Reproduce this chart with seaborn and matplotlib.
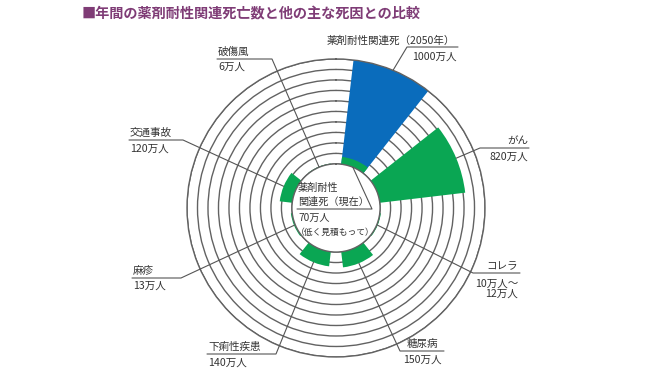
import numpy as np
import pandas as pd
import matplotlib
matplotlib.use("Agg")
import matplotlib.pyplot as plt
import seaborn as sns

# データ（単位：万人）
categories = ["薬剤耐性関連死", "がん", "コレラ", "糖尿病", "下痢性疾患", "麻疹", "交通事故", "破傷風"]
angles_deg = [22.5, 67.5, 112.5, 157.5, 202.5, 247.5, 292.5, 337.5]
deaths_now = [70, 820, 10, 150, 140, 13, 120, 6]
deaths_2050 = [1000]  # 薬剤耐性関連死（2050年）
name_labels = ["薬剤耐性関連死（2050年）", "がん", "コレラ", "糖尿病", "下痢性疾患", "麻疹", "交通事故", "破傷風"]
value_labels = ["1000万人", "820万人", "10万人〜\n12万人", "150万人", "140万人", "13万人", "120万人", "6万人"]
rings = list(range(0, 1001, 100))

BLUE = "#0a6cbc"
GREEN = "#0aa653"
LINE = "#626262"
TXT = "#333333"
PURPLE = "#7f3c76"

theta = np.deg2rad(angles_deg)
df = pd.DataFrame({
    "theta": np.r_[theta[0], theta],
    "deaths": deaths_2050 + deaths_now,
    "series": ["2050年"] + ["現在"] * len(deaths_now),
})

sns.set_style("white")
plt.rcParams["font.family"] = ["Noto Sans CJK JP", "DejaVu Sans"]

W, H = 670, 377
fig = plt.figure(figsize=(W / 100, H / 100), dpi=100)
ax = fig.add_axes([0.2791, 0.0531, 0.4448, 0.7905], projection="polar")

sns.barplot(data=df, x="theta", y="deaths", hue="series", hue_order=["2050年", "現在"],
            palette={"2050年": BLUE, "現在": GREEN}, saturation=1, native_scale=True, dodge=False,
            width=0.7, linewidth=0, edgecolor="none", errorbar=None, legend=False, ax=ax)

ax.set_theta_zero_location("N")
ax.set_theta_direction(-1)
ax.set_xlim(0, 2 * np.pi)
ax.set_rorigin(-420)
ax.set_ylim(0, 1000)
ax.set_yticks(rings)
ax.set_yticklabels([])
ax.set_xticks([])
ax.set_xlabel("")
ax.set_ylabel("")
ax.grid(axis="y", color=LINE, lw=1.0)
ax.grid(axis="x", visible=False)
for s in ax.spines.values():
    s.set_color(LINE)
    s.set_linewidth(1.0)

# 注釈用のピクセル座標のオーバーレイ
ov = fig.add_axes([0, 0, 1, 1], zorder=5)
ov.set_xlim(0, W)
ov.set_ylim(H, 0)
ov.axis("off")
ov.patch.set_alpha(0)


def to_px(t, r):
    return ov.transData.inverted().transform(ax.transData.transform((t, r)))


# 引き出し線：(開始半径, 折れ点, 下線の端, 名前の位置, 値の位置)
leaders = [
    (deaths_2050[0], (407, 47), 458, (327, 41, "left"), (457, 57, "right")),
    (deaths_now[1], (480, 148), 529, (528, 141, "right"), (528, 157, "right")),
    (deaths_now[2], (473, 273), 520, (518, 266, "right"), (518, 289, "right")),
    (deaths_now[3], (400, 351), 444, (407, 344, "left"), (403, 360, "left")),
    (deaths_now[4], (276, 354), 207, (208, 347, "left"), (208, 363, "left")),
    (deaths_now[5], (181, 278), 132, (133, 271, "left"), (133, 286, "left")),
    (deaths_now[6], (183, 140), 129, (130, 133, "left"), (130, 149, "left")),
    (deaths_now[7], (272, 59), 217, (218, 52, "left"), (218, 67, "left")),
]
for i, (r0, elbow, x_end, npos, vpos) in enumerate(leaders):
    sx, sy = to_px(theta[i], r0)
    ov.plot([sx, elbow[0], x_end], [sy, elbow[1], elbow[1]], color="#555555", lw=0.8)
    ov.text(npos[0], npos[1], name_labels[i], ha=npos[2], va="center", fontsize=7.6, color=TXT)
    ov.text(vpos[0], vpos[1], value_labels[i], ha=vpos[2], va="center", fontsize=7.6,
            color=TXT, multialignment="right", linespacing=1.05)

# 中央の注記（現在の薬剤耐性関連死）
cx, cy = to_px(theta[0], 0)
ov.plot([297, 372, cx], [209, 209, cy], color="#555555", lw=0.8)
ov.text(298, 188, "薬剤耐性", fontsize=7.3, color=TXT, va="center")
ov.text(298, 202, "関連死（現在）", fontsize=7.3, color=TXT, va="center")
ov.text(298, 218, "70万人", fontsize=7.3, color=TXT, va="center")
ov.text(296, 232, "（低く見積もって）", fontsize=6.3, color=TXT, va="center")

ov.text(82, 14, "■年間の薬剤耐性関連死亡数と他の主な死因との比較", fontsize=10.2, fontweight="bold",
        color=PURPLE, va="center", ha="left")

fig.savefig("out.png", dpi=100)
